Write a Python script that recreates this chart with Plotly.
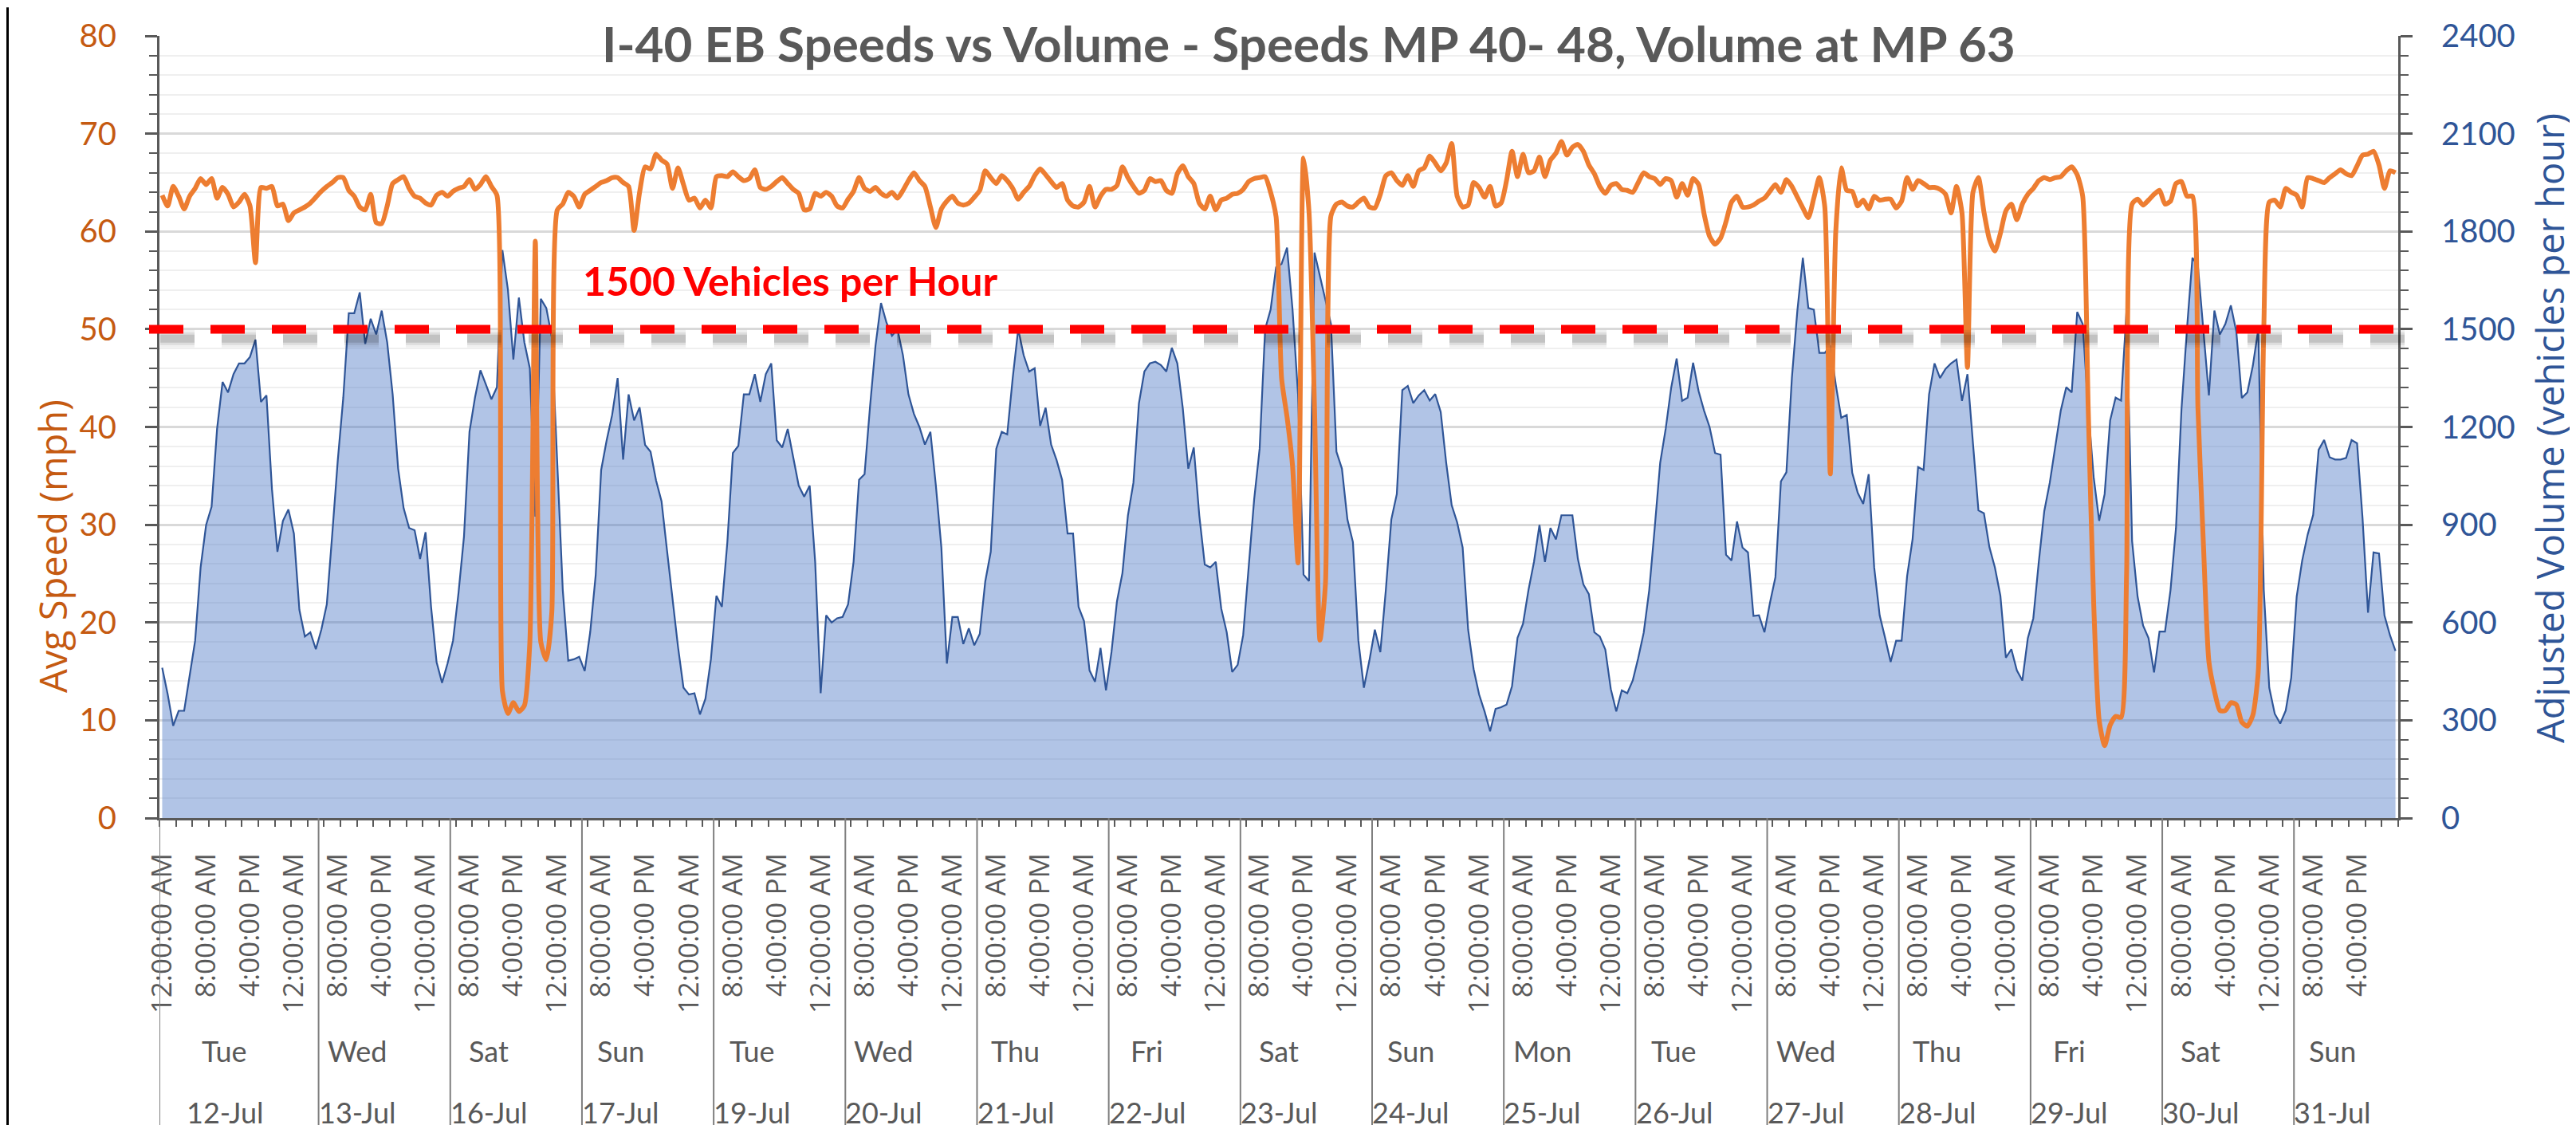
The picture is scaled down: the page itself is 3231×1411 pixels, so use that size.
import plotly.graph_objects as go

# ---------------- data ----------------
speed_mph = [
    63.7, 62.6, 64.6, 63.6, 62.3, 63.6, 64.4, 65.4, 64.8, 65.4, 63.4, 64.5,
    63.8, 62.5, 63.0, 63.8, 62.6, 56.8, 64.5, 64.4, 64.6, 62.6, 62.8, 61.1,
    61.9, 62.2, 62.5, 62.9, 63.5, 64.1, 64.6, 65.0, 65.5, 65.5, 64.2, 63.6,
    62.5, 62.2, 63.8, 60.9, 60.8, 62.6, 64.9, 65.3, 65.6, 64.4, 63.6, 63.4,
    62.9, 62.7, 63.7, 64.0, 63.6, 64.1, 64.4, 64.6, 65.3, 64.3, 64.8, 65.6,
    64.6, 63.7, 13.0, 10.7, 11.8, 10.9, 11.5, 18.0, 59.0, 18.0, 16.2, 21.0,
    62.2, 62.8, 64.0, 63.6, 62.5, 63.8, 64.2, 64.6, 65.0, 65.2, 65.5, 65.5,
    65.0, 64.6, 60.1, 64.0, 66.6, 66.4, 67.9, 67.3, 66.9, 64.4, 66.5, 64.8,
    63.2, 63.4, 62.4, 63.2, 62.4, 65.6, 65.7, 65.6, 66.1, 65.6, 65.2, 65.4,
    66.3, 64.5, 64.3, 64.6, 65.1, 65.5, 64.9, 64.3, 63.9, 62.2, 62.3, 63.9,
    63.6, 64.0, 63.6, 62.6, 62.4, 63.3, 64.1, 65.5, 64.4, 64.1, 64.5, 63.9,
    63.6, 64.0, 63.4, 64.2, 65.2, 66.0, 65.2, 64.6, 62.5, 60.4, 62.3, 63.1,
    63.6, 62.9, 62.7, 62.9, 63.5, 64.2, 66.2, 65.5, 64.9, 65.7, 65.2, 64.4,
    63.3, 64.0, 64.6, 65.7, 66.4, 65.8, 65.1, 64.5, 64.9, 63.2, 62.6, 62.5,
    63.0, 64.6, 62.5, 63.6, 64.3, 64.3, 64.7, 66.6, 65.5, 64.6, 63.9, 64.2,
    65.4, 65.1, 65.2, 64.2, 63.9, 65.9, 66.7, 65.6, 64.9, 62.9, 62.3, 63.6,
    62.2, 63.2, 63.4, 63.8, 63.9, 64.3, 65.1, 65.4, 65.5, 65.6, 64.0, 61.5,
    45.0, 41.0, 36.0, 26.1, 67.5, 62.0, 42.0, 18.2, 24.0, 61.6, 62.8, 63.0,
    62.6, 62.5, 63.0, 63.4, 62.5, 62.4, 63.8, 65.7, 66.0, 65.2, 64.7, 65.7,
    64.6, 66.2, 66.5, 67.7, 67.0, 66.2, 67.0, 69.0, 63.6, 62.5, 62.7, 65.0,
    64.5, 63.5, 64.6, 62.6, 62.9, 65.2, 68.2, 65.6, 67.9, 66.0, 66.2, 67.6,
    65.6, 67.3, 68.0, 69.2, 67.8, 68.6, 68.9, 68.2, 66.8, 65.9, 64.6, 63.9,
    64.7, 64.9, 64.3, 64.2, 64.0, 65.0, 66.0, 65.6, 65.4, 64.8, 65.4, 65.2,
    63.5, 64.9, 63.7, 65.4, 64.8, 61.8, 59.5, 58.7, 59.3, 61.0, 63.0, 63.6,
    62.5, 62.5, 62.7, 63.1, 63.4, 64.1, 64.8, 64.0, 65.3, 64.6, 63.5, 62.4,
    61.4, 63.4, 65.5, 62.5, 35.2, 60.0, 66.5, 64.2, 64.1, 62.6, 63.2, 62.3,
    63.6, 63.2, 63.3, 63.3, 62.4, 63.1, 65.5, 64.3, 65.2, 64.9, 64.5, 64.5,
    64.3, 63.8, 61.9, 64.6, 61.9, 46.1, 64.0, 65.5, 62.0, 59.2, 58.0, 59.8,
    62.1, 62.8, 61.2, 62.8, 63.8, 64.4, 65.2, 65.5, 65.3, 65.5, 65.6, 66.2,
    66.6, 65.8, 63.6, 42.0, 22.0, 10.0, 7.4, 9.5, 10.4, 10.3, 25.0, 62.8,
    63.3, 62.7, 63.2, 63.8, 64.2, 62.8, 63.1, 64.9, 65.1, 63.6, 63.6, 42.0,
    28.0, 16.0, 13.0, 11.0, 11.0, 11.8, 11.6, 9.8, 9.4, 10.5, 15.0, 50.0,
    63.0, 63.2, 62.5, 64.4, 64.0, 63.7, 62.5, 65.5, 65.4, 65.2, 65.0, 65.5,
    65.9, 66.3, 65.9, 65.7, 66.7, 67.8, 67.9, 68.2, 66.8, 64.4, 66.2, 66.0,
]

volume_vph = [
    461, 380, 283, 329, 329, 440, 544, 769, 899, 955, 1194, 1338,
    1306, 1362, 1395, 1395, 1415, 1468, 1277, 1297, 1010, 817, 912, 947,
    873, 639, 557, 570, 518, 578, 656, 873, 1098, 1290, 1549, 1549,
    1613, 1455, 1532, 1484, 1557, 1460, 1300, 1072, 951, 890, 883, 795,
    877, 648, 479, 415, 474, 544, 691, 864, 1185, 1290, 1374, 1330,
    1285, 1322, 1743, 1622, 1407, 1597, 1460, 1380, 925, 1593, 1565, 1476,
    1100, 700, 483, 487, 495, 451, 570, 745, 1068, 1159, 1237, 1350,
    1100, 1300, 1220, 1260, 1145, 1124, 1036, 972, 821, 665, 526, 400,
    379, 383, 318, 366, 487, 682, 648, 847, 1120, 1142, 1300, 1300,
    1362, 1277, 1362, 1395, 1159, 1137, 1194, 1107, 1020, 986, 1020, 786,
    383, 622, 600, 613, 617, 656, 786, 1038, 1055, 1263, 1450, 1580,
    1520, 1480, 1500, 1420, 1300, 1240, 1200, 1146, 1185, 1020, 830, 474,
    617, 617, 534, 582, 530, 565, 726, 817, 1133, 1185, 1177, 1350,
    1500, 1420, 1370, 1380, 1203, 1259, 1146, 1098, 1038, 873, 873, 648,
    604, 453, 418, 522, 392, 509, 665, 752, 929, 1029, 1272, 1370,
    1395, 1400, 1390, 1370, 1443, 1395, 1257, 1072, 1137, 929, 778, 769,
    786, 643, 570, 448, 470, 561, 769, 977, 1133, 1500, 1560, 1690,
    1700, 1750, 1560, 1300, 747, 727, 1735, 1662, 1581, 1516, 1124, 1072,
    916, 847, 544, 400, 483, 578, 509, 700, 916, 994, 1313, 1326,
    1273, 1297, 1313, 1281, 1301, 1246, 1090, 960, 907, 830, 578, 457,
    379, 327, 266, 335, 340, 348, 405, 553, 596, 700, 786, 899,
    786, 890, 855, 929, 929, 929, 795, 717, 687, 570, 557, 517,
    396, 327, 392, 383, 422, 491, 569, 699, 890, 1090, 1194, 1320,
    1410, 1280, 1290, 1397, 1310, 1250, 1200, 1120, 1115, 808, 790, 910,
    830, 815, 620, 622, 570, 660, 739, 1033, 1061, 1350, 1557, 1719,
    1565, 1560, 1427, 1427, 1450, 1330, 1228, 1237, 1059, 998, 964, 1055,
    769, 622, 552, 479, 544, 544, 742, 856, 1077, 1068, 1300, 1395,
    1350, 1378, 1395, 1407, 1280, 1362, 1150, 944, 935, 831, 769, 682,
    492, 518, 453, 422, 552, 613, 786, 942, 1029, 1141, 1250, 1322,
    1306, 1553, 1516, 1257, 1046, 912, 994, 1220, 1290, 1281, 1560, 850,
    680, 591, 552, 447, 572, 572, 699, 890, 1254, 1500, 1719, 1694,
    1500, 1297, 1557, 1484, 1516, 1573, 1492, 1289, 1306, 1387, 1500, 700,
    400, 320, 290, 330, 430, 680, 790, 870, 930, 1130, 1160, 1107,
    1100, 1100, 1105, 1160, 1150, 920, 630, 815, 812, 621, 561, 513,
]

dates = ["12-Jul", "13-Jul", "16-Jul", "17-Jul", "19-Jul", "20-Jul", "21-Jul", "22-Jul", "23-Jul",
         "24-Jul", "25-Jul", "26-Jul", "27-Jul", "28-Jul", "29-Jul", "30-Jul", "31-Jul"]
weekdays = ["Tue", "Wed", "Sat", "Sun", "Tue", "Wed", "Thu", "Fri", "Sat",
            "Sun", "Mon", "Tue", "Wed", "Thu", "Fri", "Sat", "Sun"]
hours_in_group = [29, 24, 24, 24, 24, 24, 24, 24, 24, 24, 24, 24, 24, 24, 24, 24, 19]
time_tick_labels = ["12:00:00 AM", "8:00:00 AM", "4:00:00 PM"]
threshold_vph = 1500
threshold_label = "1500 Vehicles per Hour"
title_text = "I-40 EB Speeds vs Volume - Speeds MP 40- 48, Volume at MP 63"

# ---------------- figure ----------------
W, H = 3231, 1411
ML, MR, MT, MB = 192, 231, 31, 393
PW, PH = W - ML - MR, H - MT - MB

def px_x(xp):  # pixel -> paper x
    return (xp - ML) / PW

def px_y(yp):  # pixel -> paper y
    return (H - MB - yp) / PH

n = len(speed_mph)
xs = list(range(n))
GRAY = "#595959"

fig = go.Figure()
fig.add_trace(go.Scatter(
    x=xs, y=volume_vph, yaxis="y", mode="lines", fill="tozeroy",
    line=dict(color="#2F5597", width=2.2), fillcolor="rgba(68,114,196,0.42)",
    name="Adjusted Volume", showlegend=False, hoverinfo="skip"))
fig.add_trace(go.Scatter(
    x=xs, y=speed_mph, yaxis="y2", mode="lines",
    line=dict(color="#ED7D31", width=6, shape="spline", smoothing=0.6),
    name="Avg Speed", showlegend=False, hoverinfo="skip"))

tickvals = list(range(0, n, 8))
ticktext = [time_tick_labels[(v // 8) % 3] for v in tickvals]

fig.update_layout(
    width=W, height=H, autosize=False,
    margin=dict(l=ML, r=MR, t=MT, b=MB, pad=0),
    paper_bgcolor="white", plot_bgcolor="white",
    showlegend=False,
    xaxis=dict(
        range=[-0.5, n - 0.5], showgrid=False, zeroline=False,
        showline=True, linecolor=GRAY, linewidth=3,
        tickmode="array", tickvals=tickvals, ticktext=ticktext, tickangle=-90,
        ticks="outside", ticklen=0, tickcolor="rgba(0,0,0,0)",
        tickfont=dict(family="Open Sans", size=35, color=GRAY),
        ticklabelstandoff=27,
        minor=dict(ticks="outside", ticklen=8, tickwidth=2, tickcolor=GRAY,
                   tick0=-0.5, dtick=3, showgrid=False),
    ),
    yaxis=dict(
        side="right", range=[0, 2400], tick0=0, dtick=300,
        showline=True, linecolor=GRAY, linewidth=3, zeroline=False,
        ticks="outside", ticklen=15, tickwidth=3, tickcolor=GRAY,
        tickfont=dict(family="Lato", size=40, color="#2F5597"),
        ticklabelstandoff=28,
        showgrid=True, gridcolor="#D9D9D9", gridwidth=3,
        minor=dict(dtick=60, tick0=0, ticks="outside", ticklen=10, tickwidth=2, tickcolor=GRAY,
                   showgrid=True, gridcolor="#EFEFEF", gridwidth=2),
    ),
    yaxis2=dict(
        overlaying="y", side="left", range=[0, 80], tick0=0, dtick=10,
        showline=True, linecolor=GRAY, linewidth=3, zeroline=False, showgrid=False,
        ticks="outside", ticklen=15, tickwidth=3, tickcolor=GRAY,
        tickfont=dict(family="Lato", size=40, color="#C55A11"),
        ticklabelstandoff=28,
        minor=dict(dtick=2, tick0=0, ticks="outside", ticklen=10, tickwidth=2, tickcolor=GRAY,
                   showgrid=False),
    ),
)

shapes = []
# group dividers below the category axis
starts = []
s = 0
for c in hours_in_group:
    starts.append(s)
    s += c
for st in starts:
    shapes.append(dict(type="line", xref="x", yref="paper", x0=st - 0.5, x1=st - 0.5,
                       y0=0, y1=px_y(1406), line=dict(color="#7F7F7F", width=2)))

# threshold line with soft shadow
x_start = px_x(179)
sh_dx = 14 / PW
sh_dy = 12 / PH * 2400
for w, a in [(22, 0.06), (16, 0.08), (10, 0.12)]:
    shapes.append(dict(type="line", xref="paper", yref="y", layer="above",
                       x0=x_start + sh_dx, x1=1.0 + sh_dx,
                       y0=threshold_vph - sh_dy, y1=threshold_vph - sh_dy,
                       line=dict(color=f"rgba(0,0,0,{a})", width=w, dash="43px,34px")))
shapes.append(dict(type="line", xref="paper", yref="y", layer="above",
                   x0=x_start, x1=1.0, y0=threshold_vph, y1=threshold_vph,
                   line=dict(color="#FF0000", width=11, dash="43px,34px")))
# chart border (left edge visible)
shapes.append(dict(type="line", xref="paper", yref="paper", x0=px_x(1.5), x1=px_x(1.5),
                   y0=px_y(-5), y1=px_y(1406), line=dict(color="black", width=3)))
fig.update_layout(shapes=shapes)

ann = []
ann.append(dict(text="<b>" + title_text + "</b>", xref="paper", yref="paper",
                x=px_x(1633), y=px_y(1), xanchor="center", yanchor="top", showarrow=False,
                font=dict(family="Lato", size=62, color=GRAY)))
ann.append(dict(text="<b>" + threshold_label + "</b>", xref="paper", yref="paper",
                x=px_x(983), y=px_y(340), xanchor="center", yanchor="middle", showarrow=False,
                font=dict(family="Lato", size=50, color="#FF0000")))
ann.append(dict(text="Avg Speed (mph)", xref="paper", yref="paper", textangle=-90,
                x=px_x(58), y=px_y(675), xanchor="center", yanchor="middle", showarrow=False,
                font=dict(family="Open Sans", size=47, color="#C55A11")))
ann.append(dict(text="Adjusted Volume (vehicles per hour)", xref="paper", yref="paper", textangle=-90,
                x=px_x(3190), y=px_y(526), xanchor="center", yanchor="middle", showarrow=False,
                font=dict(family="Open Sans", size=47, color="#2F5597")))
for k, (st, wd, dt) in enumerate(zip(starts, weekdays, dates)):
    off = 11.9 if k == 0 else 7.0
    cx = st - 0.5 + off
    ann.append(dict(text=wd, xref="x", yref="paper", x=cx, y=px_y(1312),
                    xanchor="center", yanchor="middle", showarrow=False,
                    font=dict(family="Lato", size=36, color=GRAY)))
    ann.append(dict(text=dt, xref="x", yref="paper", x=cx, y=px_y(1389),
                    xanchor="center", yanchor="middle", showarrow=False,
                    font=dict(family="Lato", size=36, color=GRAY)))
fig.update_layout(annotations=ann)

fig.write_html("out.html")
